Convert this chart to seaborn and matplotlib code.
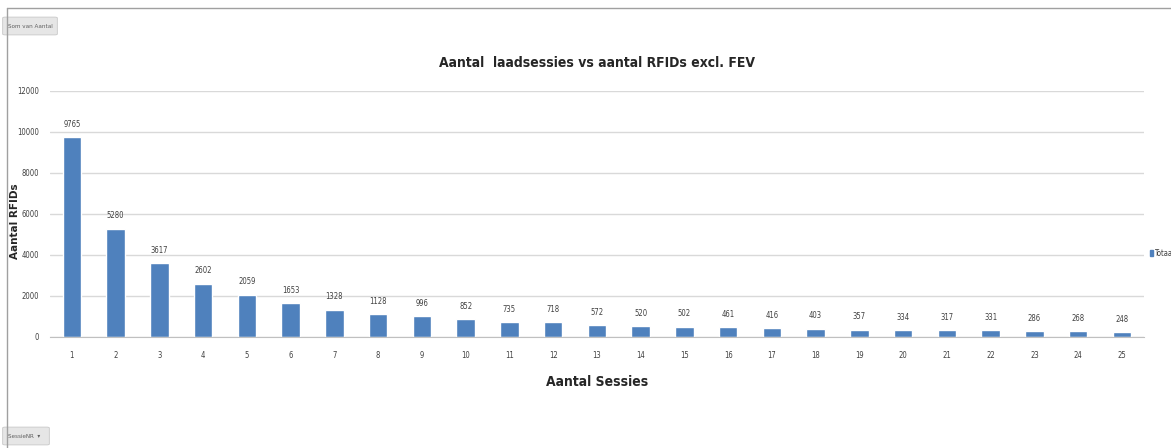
import numpy as np
import pandas as pd
import seaborn as sns
import matplotlib.pyplot as plt
from matplotlib.patches import FancyBboxPatch

sessies = [str(i) for i in range(1, 26)]
aantal_rfids = [9765, 5280, 3617, 2602, 2059, 1653, 1328, 1128, 996, 852,
                735, 718, 572, 520, 502, 461, 416, 403, 357, 334,
                317, 331, 286, 268, 248]

df = pd.DataFrame({'Sessie': sessies, 'Aantal': aantal_rfids})

sns.set_style('white')
plt.rcParams['font.family'] = ['DejaVu Sans']
plt.rcParams['font.stretch'] = 'condensed'

fig = plt.figure(figsize=(11.71, 4.48), dpi=100)
ax = fig.add_axes([0.0427, 0.248, 0.934, 0.549])

sns.barplot(data=df, x='Sessie', y='Aantal', color='#4F81BD', width=0.42,
            saturation=1, ax=ax)

ax.set_ylim(0, 12000)
ax.set_yticks(range(0, 12001, 2000))
ax.yaxis.grid(True, color='#d9d9d9', linewidth=1)
ax.set_axisbelow(True)
for s in ['top', 'right', 'left']:
    ax.spines[s].set_visible(False)
ax.spines['bottom'].set_color('#c0c0c0')
ax.tick_params(axis='both', labelsize=5.5, colors='#404040', length=0, pad=8)
ax.tick_params(axis='x', pad=10)
ax.set_xticks(np.arange(-0.5, 25, 1), minor=True)
ax.tick_params(axis='x', which='minor', length=3, color='#c0c0c0')

for i, v in enumerate(aantal_rfids):
    ax.text(i, v + 400, str(v), ha='center', va='bottom', fontsize=5.5, color='#404040')

ax.set_title('Aantal  laadsessies vs aantal RFIDs excl. FEV', fontsize=10,
             fontweight='bold', pad=17)
ax.set_xlabel('Aantal Sessies', fontsize=10, fontweight='bold', labelpad=11)
ax.set_ylabel('Aantal RFIDs', fontsize=7.5, fontweight='bold', stretch='normal')
ax.yaxis.set_label_coords(-0.0274, 0.47)

# legend entry at right edge (cut off like the reference)
fig.patches.append(plt.Rectangle((1150 / 1171, 1 - 256 / 448), 3 / 1171, 6 / 448,
                                 transform=fig.transFigure, color='#4F81BD'))
fig.text(1154 / 1171, 1 - 253 / 448, 'Totaal', fontsize=5.5, va='center', color='#404040')

# pivot chart field buttons
for (x, y, w, txt) in [(5, 18, 50, 'Som van Aantal'), (5, 428, 42, 'SessieNR  \u25be')]:
    fig.patches.append(FancyBboxPatch((x / 1171, 1 - (y + 16) / 448), w / 1171, 16 / 448,
                                      boxstyle='round,pad=0.002', transform=fig.transFigure,
                                      facecolor='#e6e6e6', edgecolor='#c8c8c8', linewidth=0.6))
    fig.text((x + 3) / 1171, 1 - (y + 8) / 448, txt, fontsize=4.5, va='center', color='#606060')

# outer border of the chart area
fig.add_artist(plt.Line2D([7 / 1171, 1], [1 - 8 / 448, 1 - 8 / 448],
                          transform=fig.transFigure, color='#a0a0a0', linewidth=1))
fig.add_artist(plt.Line2D([7 / 1171, 7 / 1171], [0, 1 - 8 / 448],
                          transform=fig.transFigure, color='#a0a0a0', linewidth=1))

fig.savefig('out.png', dpi=100)
